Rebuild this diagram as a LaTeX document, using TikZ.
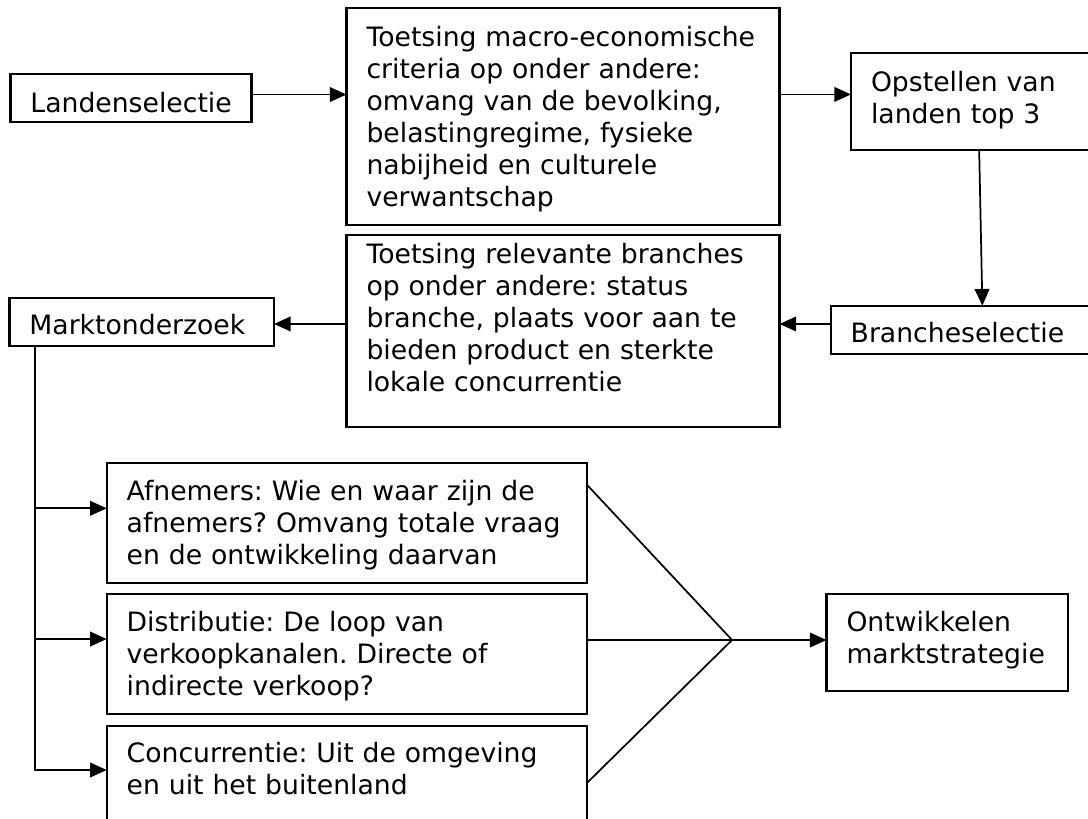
\documentclass[tikz,border=0pt]{standalone}
\usepackage{fontspec}
\setmainfont{DejaVu Sans}
\usetikzlibrary{arrows.meta}
\frenchspacing

\begin{document}
\begin{tikzpicture}[
  x=0.75pt, y=-0.75pt,
  every node/.style={font=\fontsize{20}{24}\selectfont},
  box/.style={
    rectangle, draw=black, line width=1.7pt,
    anchor=north west, align=left,
    inner xsep=15pt, inner ysep=0pt, outer sep=0pt,
  },
  edge/.style={-{Triangle[length=12.5pt,width=11pt]}, line width=1.3pt},
  link/.style={line width=1.3pt},
]
\useasboundingbox (0,0) rectangle (1088,818);
\clip (0,0) rectangle (1088,818);

% selection chain
\node[box, text width=150.75pt, text height=28.5pt, text depth=7.5pt] (land) at (10.4,74) {Landenselectie};
\node[box, text width=294.75pt, text height=28.5pt, text depth=134pt] (macro) at (346.5,8.3) {%
  Toetsing macro-economische\\
  criteria op onder andere:\\
  omvang van de bevolking,\\
  belastingregime, fysieke\\
  nabijheid en culturele\\
  verwantschap};
\node[box, text width=164.25pt, text height=28.5pt, text depth=44pt] (top3) at (851,53.3) {%
  Opstellen van\\
  landen top 3};
\node[box, text width=179.5pt, text height=27.75pt, text depth=8.45pt] (branche) at (830.7,305.7) {Brancheselectie};
\node[box, text width=294.75pt, text height=21pt, text depth=123pt] (rel) at (346.5,235) {%
  Toetsing relevante branches\\
  op onder andere: status\\
  branche, plaats voor aan te\\
  bieden product en sterkte\\
  lokale concurrentie};
\node[box, text width=168.45pt, text height=27pt, text depth=9pt] (markt) at (9.4,298) {Marktonderzoek};

% market research parts
\node[box, text width=330.4pt, text height=27.75pt, text depth=62.25pt] (afn) at (106.7,463.3) {%
  Afnemers: Wie en waar zijn de\\
  afnemers? Omvang totale vraag\\
  en de ontwikkeling daarvan};
\node[box, text width=330.4pt, text height=27.75pt, text depth=62.25pt] (dist) at (106.7,594) {%
  Distributie: De loop van\\
  verkoopkanalen. Directe of\\
  indirecte verkoop?};
\node[box, text width=330.4pt, text height=27pt, text depth=66pt] (conc) at (106.7,726) {%
  Concurrentie: Uit de omgeving\\
  en uit het buitenland};
\node[box, text width=151.1pt, text height=28.1pt, text depth=44.2pt] (strat) at (826.5,594.3) {%
  Ontwikkelen\\
  marktstrategie};

\coordinate (trunk) at ([xshift=19pt]markt.south west);
\coordinate (afnin) at ([yshift=11.25pt]afn.west);
\coordinate (distin) at ([yshift=11.25pt]dist.west);
\coordinate (concin) at ([yshift=-33pt]conc.north west);
\coordinate (afnout) at ([yshift=-16.3pt]afn.north east);
\coordinate (distout) at ([yshift=10.5pt]dist.east);
\coordinate (concout) at ([yshift=-42.5pt]conc.north east);
\coordinate (hub) at ([xshift=108.6pt]distout);

\draw[edge] ([yshift=2.6pt]land.east) -- ([yshift=2.6pt]land.east -| macro.west);
\draw[edge] ([yshift=5.4pt]top3.west -| macro.east) -- ([yshift=5.4pt]top3.west);
\draw[edge] ([xshift=-1pt]top3.south) -- ([xshift=9pt]branche.north);
\draw[edge] ([yshift=4.4pt]branche.west) -- ([yshift=4.4pt]branche.west -| rel.east);
\draw[edge] ([yshift=4.4pt]branche.west -| rel.west) -- ([yshift=4.4pt]branche.west -| markt.east);

\draw[edge] (trunk) |- (concin);
\draw[edge] (afnin -| trunk) -- (afnin);
\draw[edge] (distin -| trunk) -- (distin);

\draw[link] (afnout) -- (hub) -- (concout);
\draw[link] (distout) -- (hub);
\draw[edge] (hub) -- (hub -| strat.west);
\end{tikzpicture}
\end{document}
